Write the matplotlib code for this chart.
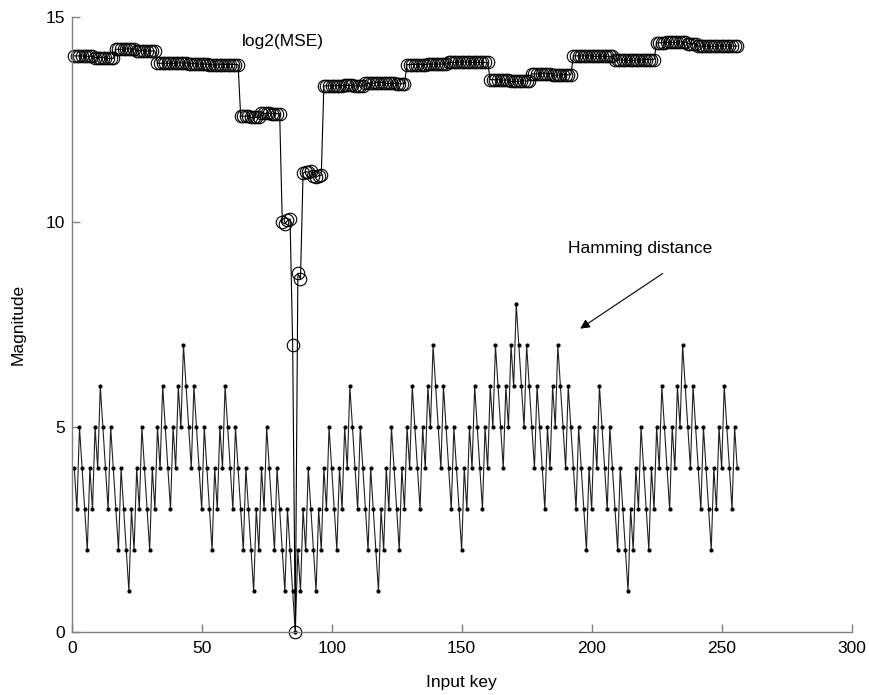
import numpy as np
import matplotlib
matplotlib.use('Agg')
import matplotlib.pyplot as plt

plt.rcParams['font.family'] = ['Liberation Sans', 'DejaVu Sans']

# input keys 1..256
keys = np.arange(1, 257)

# hamming distance, one row per 16 keys
hamming = [
    4,3,5,4,3,2,4,3,5,4,6,5,4,3,5,4,
    3,2,4,3,2,1,3,2,4,3,5,4,3,2,4,3,
    5,4,6,5,4,3,5,4,6,5,7,6,5,4,6,5,
    4,3,5,4,3,2,4,3,5,4,6,5,4,3,5,4,
    3,2,4,3,2,1,3,2,4,3,5,4,3,2,4,3,
    2,1,3,2,1,0,2,1,3,2,4,3,2,1,3,2,
    4,3,5,4,3,2,4,3,5,4,6,5,4,3,5,4,
    3,2,4,3,2,1,3,2,4,3,5,4,3,2,4,3,
    5,4,6,5,4,3,5,4,6,5,7,6,5,4,6,5,
    4,3,5,4,3,2,4,3,5,4,6,5,4,3,5,4,
    6,5,7,6,5,4,6,5,7,6,8,7,6,5,7,6,
    5,4,6,5,4,3,5,4,6,5,7,6,5,4,6,5,
    4,3,5,4,3,2,4,3,5,4,6,5,4,3,5,4,
    3,2,4,3,2,1,3,2,4,3,5,4,3,2,4,3,
    5,4,6,5,4,3,5,4,6,5,7,6,5,4,6,5,
    4,3,5,4,3,2,4,3,5,4,6,5,4,3,5,4,
]

# log2(MSE), one row per 16 keys
log2_mse = [
    14.06,14.06,14.06,14.06,14.05,14.05,14.05,14.05,14.02,14.02,14.02,14.02,14.00,14.00,14.00,14.00,
    14.22,14.22,14.22,14.22,14.23,14.23,14.23,14.23,14.19,14.19,14.19,14.19,14.18,14.18,14.18,14.18,
    13.88,13.88,13.88,13.88,13.88,13.88,13.88,13.88,13.89,13.89,13.89,13.89,13.87,13.87,13.87,13.87,
    13.86,13.86,13.86,13.86,13.84,13.84,13.84,13.84,13.85,13.85,13.85,13.85,13.85,13.85,13.85,13.85,
    12.59,12.59,12.59,12.59,12.56,12.56,12.56,12.56,12.66,12.66,12.66,12.66,12.65,12.65,12.65,12.65,
    10.00,9.96,10.05,10.08,7.00,0.00,8.76,8.62,11.20,11.24,11.22,11.25,11.12,11.10,11.14,11.15,
    13.33,13.33,13.33,13.33,13.33,13.33,13.33,13.33,13.34,13.34,13.34,13.34,13.33,13.33,13.33,13.33,
    13.39,13.39,13.39,13.39,13.41,13.41,13.41,13.41,13.39,13.39,13.39,13.39,13.38,13.38,13.38,13.38,
    13.85,13.85,13.85,13.85,13.85,13.85,13.85,13.85,13.86,13.86,13.86,13.86,13.86,13.86,13.86,13.86,
    13.90,13.90,13.90,13.90,13.91,13.91,13.91,13.91,13.90,13.90,13.90,13.90,13.90,13.90,13.90,13.90,
    13.48,13.48,13.48,13.48,13.47,13.47,13.47,13.47,13.44,13.44,13.44,13.44,13.45,13.45,13.45,13.45,
    13.62,13.62,13.62,13.62,13.63,13.63,13.63,13.63,13.59,13.59,13.59,13.59,13.60,13.60,13.60,13.60,
    14.06,14.06,14.06,14.06,14.06,14.06,14.06,14.06,14.05,14.05,14.05,14.05,14.05,14.05,14.05,14.05,
    13.96,13.96,13.96,13.96,13.95,13.95,13.95,13.95,13.96,13.96,13.96,13.96,13.97,13.97,13.97,13.97,
    14.38,14.38,14.38,14.38,14.39,14.39,14.39,14.39,14.40,14.40,14.40,14.40,14.36,14.36,14.36,14.36,
    14.30,14.30,14.30,14.30,14.29,14.29,14.29,14.29,14.30,14.30,14.30,14.30,14.30,14.30,14.30,14.30,
]

fig = plt.figure(figsize=(8.69, 6.95), dpi=100)
ax = fig.add_axes([0.0825, 0.0902, 0.8975, 0.8848])

ax.plot(keys, hamming, '-', color='#202020', lw=0.8, marker='.', ms=4,
        mfc='black', mec='black', clip_on=False)
ax.plot(keys, log2_mse, '-', color='black', lw=0.8, marker='o', ms=9,
        mfc='none', mec='black', mew=0.8, clip_on=False)

ax.set_xlim(0, 300)
ax.set_ylim(0, 15)
ax.set_xticks(np.arange(0, 301, 50))
ax.set_yticks([0, 5, 10, 15])

for s in ['top', 'right']:
    ax.spines[s].set_visible(False)
for s in ['left', 'bottom']:
    ax.spines[s].set_color('#808080')
    ax.spines[s].set_linewidth(1.0)
ax.tick_params(direction='in', length=6, width=1.0, color='#808080',
               labelsize=12.5)
ax.tick_params(axis='x', pad=6)
ax.tick_params(axis='y', pad=5)

ax.set_xlabel('Input key', fontsize=12.5, labelpad=14)
ax.set_ylabel('Magnitude', fontsize=12.5, labelpad=14)

ax.text(81.3, 14.42, 'log2(MSE)', fontsize=12.5, ha='center', va='center')
ax.text(218.6, 9.37, 'Hamming distance', fontsize=12.5, ha='center',
        va='center')
ax.annotate('', xy=(194.7, 7.37), xytext=(228.2, 8.79),
            arrowprops=dict(arrowstyle='-|>', color='black', lw=0.8,
                            mutation_scale=14))

fig.savefig('out.png', dpi=100)
